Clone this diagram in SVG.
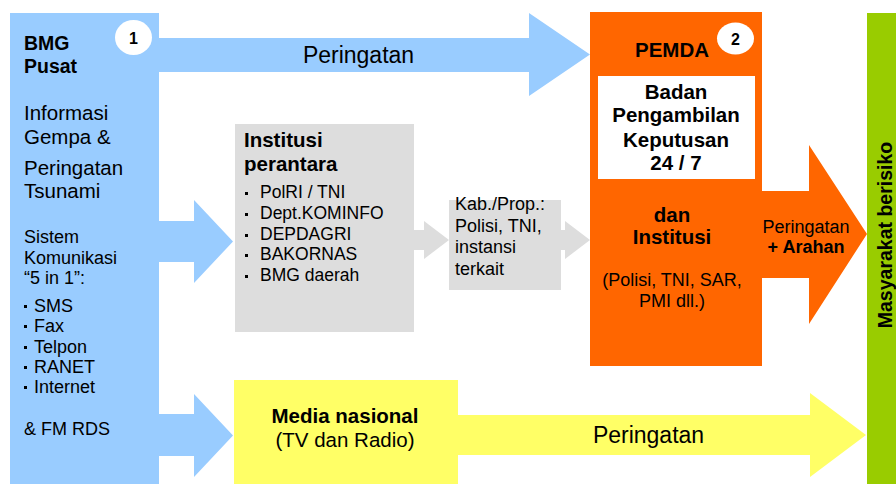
<svg xmlns="http://www.w3.org/2000/svg" width="896" height="484" viewBox="0 0 896 484">
<style>
text{font-family:"Liberation Sans",Arial,sans-serif;fill:#000}
.b{font-weight:bold}
.m{text-anchor:middle}
.blue{fill:#99CCFF}
.gray{fill:#DDDDDD}
.org{fill:#FF6600}
.yel{fill:#FFFF66}
.grn{fill:#99CC00}
.dot{fill:#000}
</style>
<rect width="896" height="484" fill="#fff"/>
<g id="connectors">
  <polygon class="blue" points="159,38 529,38 529,13 590,54.5 529,96 529,72 159,72"/>
  <text x="358.5" y="63" class="m" font-size="23">Peringatan</text>
  <polygon class="blue" points="159,221 194,221 194,200 233,241.5 194,283 194,262 159,262"/>
  <polygon class="blue" points="159,414 194,414 194,394 233,435.5 194,477 194,456 159,456"/>
  <polygon class="gray" points="414,230 424,230 424,221 449,240 424,259 424,250 414,250"/>
  <polygon class="gray" points="561,230 565,230 565,221 590,240 565,259 565,250 561,250"/>
  <polygon class="org" points="762,191 809,191 809,145 867,234 809,324 809,278 762,278"/>
  <text x="806" y="233" class="m" font-size="18">Peringatan</text>
  <text x="806" y="253" class="m b" font-size="18">+ Arahan</text>
  <polygon class="yel" points="458,415 810,415 810,393 866,435 810,477 810,455 458,455"/>
  <text x="648.5" y="443" class="m" font-size="23">Peringatan</text>
</g>
<g id="bmg">
  <rect class="blue" x="10" y="13" width="149" height="471"/>
  <ellipse cx="133.5" cy="37.5" rx="18.5" ry="17.5" fill="#fff"/>
  <text x="133.5" y="44" class="m b" font-size="16">1</text>
  <text x="24" y="50" class="b" font-size="19.5">BMG</text>
  <text x="24" y="73" class="b" font-size="19.5">Pusat</text>
  <text x="24" y="120" font-size="20.5">Informasi</text>
  <text x="24" y="144" font-size="20.5">Gempa &amp;</text>
  <text x="24" y="175" font-size="20.5">Peringatan</text>
  <text x="24" y="198" font-size="20.5">Tsunami</text>
  <text x="24" y="243" font-size="18">Sistem</text>
  <text x="24" y="264" font-size="18">Komunikasi</text>
  <text x="24" y="284" font-size="18">“5 in 1”:</text>
  <rect class="dot" x="24" y="305" width="3" height="3"/>
  <text x="34" y="312" font-size="18">SMS</text>
  <rect class="dot" x="24" y="325" width="3" height="3"/>
  <text x="34" y="332" font-size="18">Fax</text>
  <rect class="dot" x="24" y="346" width="3" height="3"/>
  <text x="34" y="353" font-size="18">Telpon</text>
  <rect class="dot" x="24" y="366" width="3" height="3"/>
  <text x="34" y="373" font-size="18">RANET</text>
  <rect class="dot" x="24" y="386" width="3" height="3"/>
  <text x="34" y="393" font-size="18">Internet</text>
  <text x="24" y="435" font-size="18">&amp; FM RDS</text>
</g>
<g id="institusi-perantara">
  <rect class="gray" x="235" y="124" width="179" height="208"/>
  <text x="244" y="147" class="b" font-size="20.5">Institusi</text>
  <text x="244" y="171" class="b" font-size="20.5">perantara</text>
  <rect class="dot" x="245" y="192" width="3" height="3"/>
  <text x="260" y="198" font-size="17.5">PolRI / TNI</text>
  <rect class="dot" x="245" y="213" width="3" height="3"/>
  <text x="260" y="219" font-size="17.5">Dept.KOMINFO</text>
  <rect class="dot" x="245" y="234" width="3" height="3"/>
  <text x="260" y="240" font-size="17.5">DEPDAGRI</text>
  <rect class="dot" x="245" y="254" width="3" height="3"/>
  <text x="260" y="260" font-size="17.5">BAKORNAS</text>
  <rect class="dot" x="245" y="275" width="3" height="3"/>
  <text x="260" y="281" font-size="17.5">BMG daerah</text>
</g>
<g id="kab-prop">
  <rect class="gray" x="449" y="200" width="112" height="90"/>
  <text x="455" y="210" font-size="18">Kab./Prop.:</text>
  <text x="455" y="232" font-size="18">Polisi, TNI,</text>
  <text x="455" y="253" font-size="18">instansi</text>
  <text x="455" y="275" font-size="18">terkait</text>
</g>
<g id="pemda">
  <rect class="org" x="590" y="12" width="172" height="354"/>
  <ellipse cx="735.5" cy="38.5" rx="18.5" ry="16" fill="#fff"/>
  <text x="735.5" y="45" class="m b" font-size="16">2</text>
  <text x="635" y="57" class="b" font-size="20.5">PEMDA</text>
  <rect x="598" y="76" width="157" height="103" fill="#fff"/>
  <text x="676" y="99" class="m b" font-size="20.5">Badan</text>
  <text x="676" y="122" class="m b" font-size="20.5">Pengambilan</text>
  <text x="676" y="147" class="m b" font-size="20.5">Keputusan</text>
  <text x="676" y="170" class="m b" font-size="20.5">24 / 7</text>
  <text x="672" y="222" class="m b" font-size="20.5">dan</text>
  <text x="672" y="244" class="m b" font-size="20.5">Institusi</text>
  <text x="672" y="286" class="m" font-size="18">(Polisi, TNI, SAR,</text>
  <text x="672" y="307" class="m" font-size="18">PMI dll.)</text>
</g>
<g id="media-nasional">
  <rect class="yel" x="234" y="380" width="224" height="104"/>
  <text x="345" y="423" class="m b" font-size="20.5">Media nasional</text>
  <text x="345" y="447" class="m" font-size="20.5">(TV dan Radio)</text>
</g>
<g id="masyarakat">
  <rect class="grn" x="867" y="13" width="29" height="471"/>
  <text transform="translate(892,235) rotate(-90)" class="m b" font-size="19.5">Masyarakat berisiko</text>
</g>
</svg>
